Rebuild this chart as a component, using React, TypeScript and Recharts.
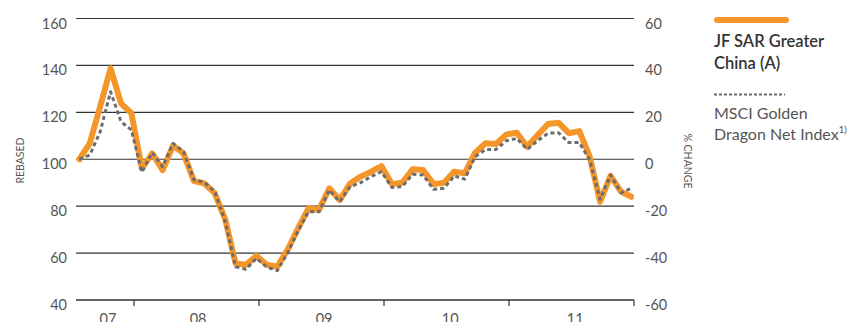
import React from 'react';
import { LineChart, Line, XAxis, YAxis, CartesianGrid } from 'recharts';

// month index (0 = first month-end, Jul 2007)
const months = [
  0, 1, 2, 3, 4, 5, 6, 7, 8, 9, 10, 11, 12, 13, 14, 15, 16, 17, 18, 19, 20, 21, 22, 23, 24, 25, 26,
  27, 28, 29, 30, 31, 32, 33, 34, 35, 36, 37, 38, 39, 40, 41, 42, 43, 44, 45, 46, 47, 48, 49, 50, 51, 52, 53,
];

const fundValues = [
  100, 106.8, 122.5, 138.8, 123.8, 119.6, 96.1, 102.5, 95.4, 105.8, 102.5, 90.7, 89.7, 85.5,
  74.5, 55.6, 55.0, 58.8, 55.0, 54.2, 61.5, 70.5, 79.1, 78.4, 87.6, 82.6, 89.7,
  92.6, 94.7, 97.1, 89.4, 90.0, 95.7, 95.4, 89.4, 90.0, 94.7, 94.0, 102.8, 106.8, 106.5,
  110.6, 111.3, 105.3, 110.3, 115.0, 115.6, 111.1, 112.0, 101.1, 81.9, 92.9, 86.2, 84.0,
];

const indexValues = [
  100, 101.8, 111.7, 128.8, 116, 112.5, 94.5, 102.8, 96.8, 106.8, 103.2, 91.2, 90.2, 86.2,
  73.5, 54.2, 53.1, 57.8, 54.0, 52.5, 60.0, 69.5, 77.6, 77.6, 86.9, 81.9, 88.3,
  90.0, 92.6, 94.7, 88.0, 88.3, 93.6, 93.3, 87.2, 87.6, 92.9, 91.5, 101.1, 104.2, 104.2,
  107.9, 108.9, 104.2, 107.9, 111.1, 111.3, 107.1, 107.1, 99.7, 82.9, 93.3, 85.7, 87.6,
];

const yearTickPositions = [5.25, 17.25, 29.25, 41.25, 53.25];
const yearLabels = ['07', '08', '09', '10', '11'];
const yearLabelPositions = [2.75, 11.4, 23.5, 35.6, 47.6];

const leftTicks = [40, 60, 80, 100, 120, 140, 160];
const rightTicks = [-60, -40, -20, 0, 20, 40, 60];

const ORANGE = '#F5962A';
const GREY = '#6B6C6E';
const FONT = 'Lato, "Open Sans", sans-serif';

const data = months.map((m, i) => ({ m, fund: fundValues[i], index: indexValues[i] }));

const allXTicks = [...yearTickPositions, ...yearLabelPositions].sort((a, b) => a - b);

const XTick = (p: any) => {
  const v = p.payload.value;
  const ti = yearTickPositions.indexOf(v);
  if (ti >= 0) {
    return <line x1={p.x} x2={p.x} y1={p.y} y2={p.y + 6} stroke="#333" strokeWidth={1.2} />;
  }
  const li = yearLabelPositions.indexOf(v);
  if (li < 0) return null;
  return (
    <text x={p.x} y={p.y + 24} textAnchor="middle" fontFamily={FONT} fontSize={14.5} fill="#555">
      {yearLabels[li]}
    </text>
  );
};

const LeftTick = (p: any) => (
  <text x={p.x} y={p.y + 10} textAnchor="end" fontFamily={FONT} fontSize={14.5} fill="#555">
    {p.payload.value}
  </text>
);

const RightTick = (p: any) => (
  <text x={p.x} y={p.y + 10} textAnchor="start" fontFamily={FONT} fontSize={14.5} fill="#555">
    {p.payload.value}
  </text>
);

export default function App() {
  return (
    <div style={{ position: 'absolute', left: 0, top: 0, width: 850, height: 322, background: '#fff', overflow: 'hidden' }}>
      <LineChart width={850} height={322} data={data} margin={{ top: 18.5, right: 0, bottom: 0, left: 0 }}>
        <CartesianGrid yAxisId="left" vertical={false} stroke="#333" strokeWidth={1.2} />
        <XAxis
          dataKey="m"
          type="number"
          domain={[-0.32, 53.25]}
          allowDataOverflow
          ticks={allXTicks}
          interval={0}
          tick={<XTick />}
          tickLine={false}
          tickSize={0}
          tickMargin={0}
          axisLine={{ stroke: '#333', strokeWidth: 1.2 }}
          height={22}
        />
        <YAxis
          yAxisId="left"
          domain={[40, 160]}
          allowDataOverflow
          ticks={leftTicks}
          interval={0}
          tick={<LeftTick />}
          axisLine={false}
          tickLine={false}
          tickSize={0}
          tickMargin={9}
          width={76}
        />
        <YAxis
          yAxisId="right"
          orientation="right"
          type="number"
          domain={[-60, 60]}
          allowDataOverflow
          ticks={rightTicks}
          interval={0}
          tick={<RightTick />}
          axisLine={false}
          tickLine={false}
          tickSize={0}
          tickMargin={11}
          width={216}
        />
        <Line
          yAxisId="left"
          type="linear"
          dataKey="fund"
          stroke={ORANGE}
          strokeWidth={6}
          strokeLinejoin="round"
          strokeLinecap="round"
          dot={false}
          activeDot={false}
          isAnimationActive={false}
        />
        <Line
          yAxisId="left"
          type="linear"
          dataKey="index"
          stroke={GREY}
          strokeWidth={3}
          strokeDasharray="4 3"
          strokeLinejoin="round"
          dot={false}
          activeDot={false}
          isAnimationActive={false}
        />
      </LineChart>
      <svg width={850} height={322} style={{ position: 'absolute', left: 0, top: 0, pointerEvents: 'none' }}>
        <text
          transform="translate(24,160.5) rotate(-90)"
          textAnchor="middle"
          fontFamily={FONT}
          fontSize={10.5}
          fill="#555"
        >
          REBASED
        </text>
        <text
          transform="translate(684,161) rotate(90)"
          textAnchor="middle"
          fontFamily={FONT}
          fontSize={10.5}
          fill="#555"
        >
          % CHANGE
        </text>
        <line x1={717} x2={786} y1={20} y2={20} stroke={ORANGE} strokeWidth={6} strokeLinecap="round" />
        <text x={714} y={47} fontFamily={FONT} fontSize={16.5} fontWeight={600} fill="#333">
          JF SAR Greater
        </text>
        <text x={714} y={69} fontFamily={FONT} fontSize={16.5} fontWeight={600} fill="#333">
          China (A)
        </text>
        <line x1={714} x2={785} y1={94.5} y2={94.5} stroke={GREY} strokeWidth={2} strokeDasharray="3 2" />
        <text x={714} y={119} fontFamily={FONT} fontSize={16} fill="#555">
          MSCI Golden
        </text>
        <text x={714} y={140} fontFamily={FONT} fontSize={16} fill="#555">
          Dragon Net Index
          <tspan fontSize={9.5} dy={-7}>1)</tspan>
        </text>
      </svg>
    </div>
  );
}
